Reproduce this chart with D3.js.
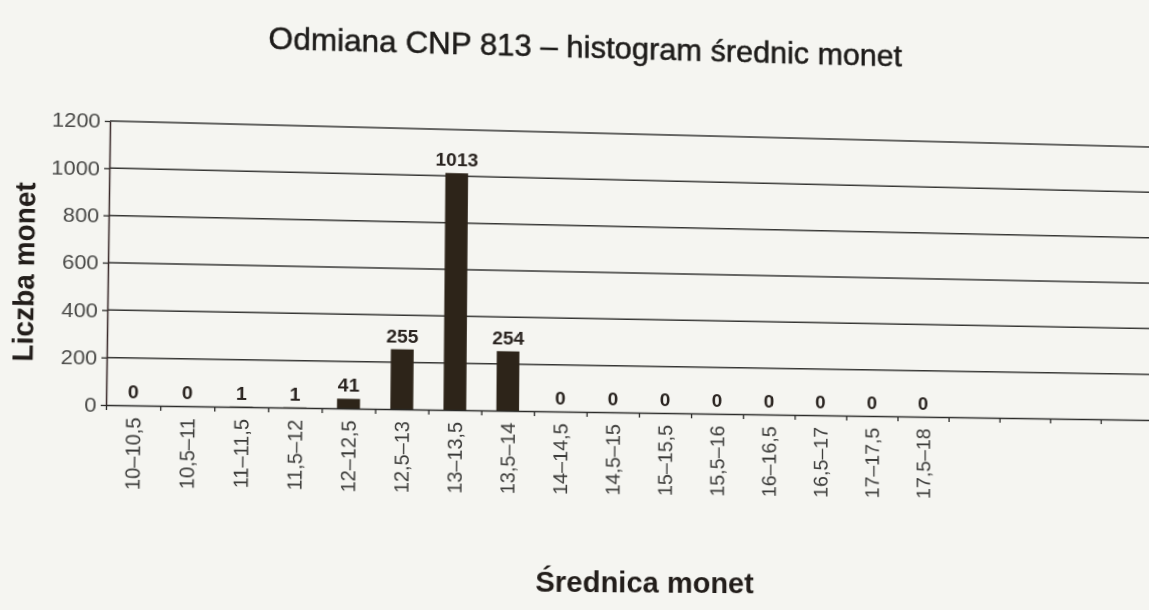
<!DOCTYPE html>
<html>
<head>
<meta charset="utf-8">
<script src="https://cdn.jsdelivr.net/npm/d3@7"></script>
<style>
  html, body { margin: 0; padding: 0; background: #f5f5f1; overflow: hidden; }
  svg { display: block; transform-origin: 0 0; }
  text { font-family: "Liberation Sans", Arial, sans-serif; }
</style>
</head>
<body>
<svg id="chart" width="1149" height="610"></svg>
<script>
// bins of coin diameter and counts
const categories = ['10–10,5', '10,5–11', '11–11,5', '11,5–12', '12–12,5', '12,5–13', '13–13,5', '13,5–14',
  '14–14,5', '14,5–15', '15–15,5', '15,5–16', '16–16,5', '16,5–17', '17–17,5', '17,5–18']
const counts = [0, 0, 1, 1, 41, 255, 1013, 254, 0, 0, 0, 0, 0, 0, 0, 0]
const emptySlots = 4 // the printed axis keeps going with unused bins
const yTicks = [0, 200, 400, 600, 800, 1000, 1200]

const titleText = 'Odmiana CNP 813 – histogram średnic monet'
const xTitle = 'Średnica monet'
const yTitle = 'Liczba monet'

// flat plot box, later warped to match the photographed page
const box = { left: 108, right: 1150, top: 121, bottom: 405 }
const quad = [[110, 121], [1150, 147], [1151, 420], [106, 405]] // TL, TR, BR, BL on the photo

/**
 * Homography from the flat box to the photographed quad
 */
function boxToQuad (b, q) {
  const [[x0, y0], [x1, y1], [x2, y2], [x3, y3]] = q
  const dx1 = x1 - x2, dx2 = x3 - x2, sx = x0 - x1 + x2 - x3
  const dy1 = y1 - y2, dy2 = y3 - y2, sy = y0 - y1 + y2 - y3
  const den = dx1 * dy2 - dx2 * dy1
  const g = (sx * dy2 - dx2 * sy) / den
  const h = (dx1 * sy - sx * dy1) / den
  const Q = [
    [x1 - x0 + g * x1, x3 - x0 + h * x3, x0],
    [y1 - y0 + g * y1, y3 - y0 + h * y3, y0],
    [g, h, 1]
  ]
  const w = b.right - b.left, hh = b.bottom - b.top
  const S = [[1 / w, 0, -b.left / w], [0, 1 / hh, -b.top / hh], [0, 0, 1]]
  return mul(Q, S)
}

function mul (A, B) {
  return A.map((row, i) => B[0].map((_, j) => row.reduce((s, v, k) => s + v * B[k][j], 0)))
}

function invert (m) {
  const [[a, b, c], [d, e, f], [g, h, i]] = m
  const A = e * i - f * h, B = -(d * i - f * g), C = d * h - e * g
  const det = a * A + b * B + c * C
  return [
    [A / det, -(b * i - c * h) / det, (b * f - c * e) / det],
    [B / det, (a * i - c * g) / det, -(a * f - c * d) / det],
    [C / det, -(a * h - b * g) / det, (a * e - b * d) / det]
  ]
}

const H = boxToQuad(box, quad)
const Hinv = invert(H)
// where a point seen on the photo sits in the flat drawing
function flat (px, py) {
  const w = Hinv[2][0] * px + Hinv[2][1] * py + Hinv[2][2]
  return [(Hinv[0][0] * px + Hinv[0][1] * py + Hinv[0][2]) / w,
    (Hinv[1][0] * px + Hinv[1][1] * py + Hinv[1][2]) / w]
}

const svg = d3.select('#chart')

const nSlots = categories.length + emptySlots
let x = d3.scaleBand()
    .domain(d3.range(nSlots))
    .range([box.left, box.right])
let xEdge = d3.scaleLinear()
    .domain([0, nSlots])
    .range([box.left, box.right])
let y = d3.scaleLinear()
    .domain([0, 1200])
    .range([box.bottom, box.top])

// gridlines
svg.append('g')
  .selectAll('line')
  .data(yTicks.filter(d => d > 0))
  .join('line')
    .attr('x1', box.left)
    .attr('x2', box.right)
    .attr('y1', d => y(d))
    .attr('y2', d => y(d))
    .attr('stroke', '#353533')
    .attr('stroke-width', 1.5)

// bars
const barW = x.bandwidth() * 0.43
svg.append('g')
  .selectAll('rect')
  .data(counts)
  .join('rect')
    .attr('x', (d, i) => x(i) + (x.bandwidth() - barW) / 2)
    .attr('y', d => y(d))
    .attr('width', barW)
    .attr('height', d => y(0) - y(d))
    .attr('fill', '#2d2419')

// value labels
svg.append('g')
  .selectAll('text')
  .data(counts)
  .join('text')
    .attr('x', (d, i) => x(i) + x.bandwidth() / 2)
    .attr('y', d => y(d) - 7)
    .attr('text-anchor', 'middle')
    .attr('font-size', 19)
    .attr('font-weight', 'bold')
    .attr('fill', '#2a2420')
    .text(d => d)

// x axis: ticks on the bin edges
let xAxis = svg.append('g')
    .attr('transform', `translate(0,${box.bottom})`)
    .call(d3.axisBottom(xEdge).tickValues(d3.range(nSlots + 1)).tickSize(5).tickSizeOuter(0).tickFormat(''))
xAxis.select('.domain').attr('stroke', '#2a2a28').attr('stroke-width', 1.6)
xAxis.selectAll('.tick line').attr('stroke', '#2a2a28').attr('stroke-width', 1.3)

// x tick labels, rotated
svg.append('g')
  .selectAll('text')
  .data(categories)
  .join('text')
    .attr('transform', (d, i) => `translate(${x(i) + x.bandwidth() / 2},${box.bottom + 12}) rotate(-90)`)
    .attr('dy', '0.36em')
    .attr('text-anchor', 'end')
    .attr('font-size', 20)
    .attr('fill', '#3c3c3a')
    .text(d => d)

// y axis
let yAxis = svg.append('g')
    .attr('transform', `translate(${box.left},0)`)
    .call(d3.axisLeft(y).tickValues(yTicks).tickFormat(d3.format('d')).tickSize(5).tickSizeOuter(0).tickPadding(4))
yAxis.select('.domain').attr('stroke', '#3a2a2a').attr('stroke-width', 1.5)
yAxis.selectAll('.tick line').attr('stroke', '#2a2a28').attr('stroke-width', 1.3)
yAxis.selectAll('.tick text')
    .attr('font-size', 21)
    .attr('fill', '#4a4a48')
    .attr('font-family', '"Liberation Sans", Arial, sans-serif')

// titles, placed by where they appear on the photo
let [tx, ty] = flat(589, 58)
svg.append('text')
    .attr('x', tx)
    .attr('y', ty)
    .attr('text-anchor', 'middle')
    .attr('font-size', 31)
    .attr('fill', '#1e1c1a')
    .attr('stroke', '#1e1c1a')
    .attr('stroke-width', 0.5)
    .text(titleText)

let [ax, ay] = flat(645, 593)
svg.append('text')
    .attr('x', ax)
    .attr('y', ay)
    .attr('text-anchor', 'middle')
    .attr('font-size', 29)
    .attr('font-weight', 'bold')
    .attr('fill', '#221d1a')
    .text(xTitle)

let [lx, ly] = flat(34, 272)
svg.append('text')
    .attr('transform', `translate(${lx},${ly}) rotate(-90)`)
    .attr('text-anchor', 'middle')
    .attr('font-size', 28)
    .attr('font-weight', 'bold')
    .attr('fill', '#221d1a')
    .text(yTitle)

// warp the flat drawing onto the photographed page
const m = H
svg.style('transform', `matrix3d(${m[0][0]},${m[1][0]},0,${m[2][0]},${m[0][1]},${m[1][1]},0,${m[2][1]},0,0,1,0,${m[0][2]},${m[1][2]},0,${m[2][2]})`)
</script>
</body>
</html>
